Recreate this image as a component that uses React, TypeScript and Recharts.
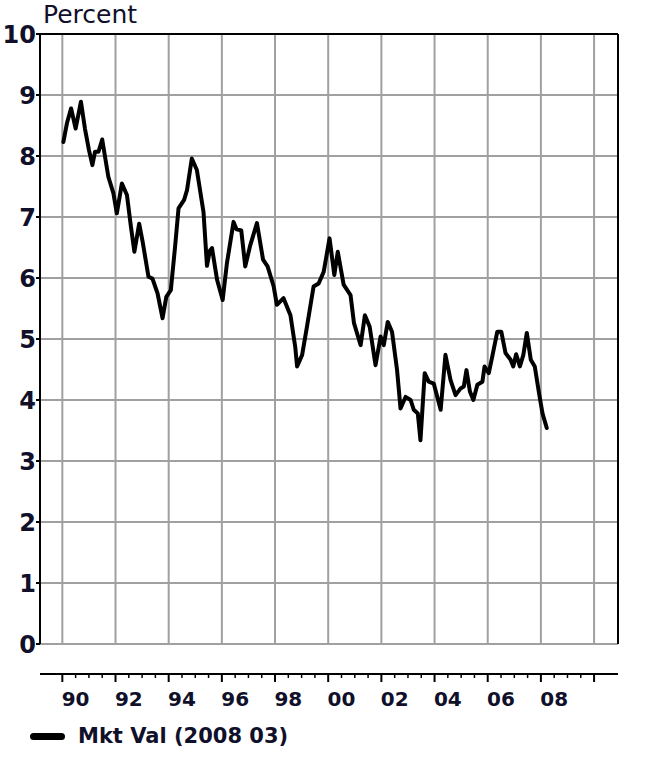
import React from 'react';
import { LineChart, Line, XAxis, YAxis, CartesianGrid, ReferenceLine, Legend } from 'recharts';

const dates = [
  1990.04, 1990.18, 1990.33, 1990.5, 1990.7, 1990.85, 1991.0, 1991.13, 1991.23, 1991.36,
  1991.5, 1991.62, 1991.73, 1991.92, 1992.05, 1992.24, 1992.43, 1992.58, 1992.71, 1992.89,
  1993.03, 1993.24, 1993.39, 1993.58, 1993.77, 1993.91, 1994.08, 1994.24, 1994.37, 1994.58,
  1994.69, 1994.87, 1995.06, 1995.31, 1995.44, 1995.55, 1995.63, 1995.82, 1996.03, 1996.19,
  1996.44, 1996.55, 1996.73, 1996.88, 1997.07, 1997.32, 1997.55, 1997.72, 1997.95, 1998.07,
  1998.32, 1998.58, 1998.76, 1998.83, 1999.02, 1999.2, 1999.45, 1999.64, 1999.83, 2000.05,
  2000.23, 2000.36, 2000.58, 2000.84, 2000.97, 2001.22, 2001.38, 2001.56, 2001.78, 2001.97,
  2002.09, 2002.24, 2002.4, 2002.59, 2002.72, 2002.91, 2003.1, 2003.22, 2003.37, 2003.47,
  2003.63, 2003.78, 2003.97, 2004.23, 2004.41, 2004.6, 2004.79, 2004.98, 2005.1, 2005.2,
  2005.33, 2005.46, 2005.61, 2005.8, 2005.88, 2006.04, 2006.17, 2006.36, 2006.51, 2006.67,
  2006.86, 2006.96, 2007.07, 2007.21, 2007.34, 2007.47, 2007.62, 2007.77, 2007.93, 2008.06,
  2008.22,
];

const mktVal = [
  8.23, 8.55, 8.78, 8.45, 8.89, 8.45, 8.1, 7.85, 8.07, 8.07,
  8.27, 7.95, 7.66, 7.39, 7.06, 7.55, 7.36, 6.84, 6.43, 6.89,
  6.57, 6.02, 5.99, 5.75, 5.34, 5.69, 5.8, 6.51, 7.14, 7.28,
  7.44, 7.96, 7.77, 7.08, 6.2, 6.45, 6.49, 5.97, 5.64, 6.24,
  6.92, 6.8, 6.78, 6.19, 6.54, 6.9, 6.3, 6.19, 5.86, 5.56,
  5.67, 5.39, 4.87, 4.55, 4.74, 5.2, 5.86, 5.91, 6.1, 6.65,
  6.05, 6.43, 5.89, 5.72, 5.26, 4.9, 5.39, 5.2, 4.57, 5.04,
  4.9, 5.28, 5.12, 4.49, 3.86, 4.05, 4.0, 3.84, 3.78, 3.34,
  4.44, 4.3, 4.27, 3.84, 4.74, 4.33, 4.08, 4.19, 4.22, 4.49,
  4.14, 4.0, 4.25, 4.3, 4.55, 4.44, 4.71, 5.12, 5.12, 4.77,
  4.66, 4.55, 4.75, 4.55, 4.74, 5.1, 4.66, 4.55, 4.11, 3.78,
  3.54,
];

const yTicks = [0, 1, 2, 3, 4, 5, 6, 7, 8, 9, 10];
const gridYears = [1990, 1992, 1994, 1996, 1998, 2000, 2002, 2004, 2006, 2008, 2010];
const xLabels = ['90', '92', '94', '96', '98', '00', '02', '04', '06', '08'];
const xLabelYears = [1990.5, 1992.5, 1994.5, 1996.5, 1998.5, 2000.5, 2002.5, 2004.5, 2006.5, 2008.5];
const xDomain = [1989.16, 2010.9];

const halfYearTicks = gridYears
  .flatMap((y) => [y, y + 0.5, y + 1, y + 1.5])
  .filter((t) => t <= 2010);

const data = dates.map((d, i) => ({ date: d, value: mktVal[i] }));

const TEXT = '#10102a';
const FONT = '"DejaVu Sans", sans-serif';

const XTick = (props: any) => {
  const { x, y, payload } = props;
  const v = payload.value;
  const major = gridYears.includes(v);
  const idx = xLabelYears.indexOf(v);
  return (
    <g>
      <line x1={x} y1={y} x2={x} y2={y + (major ? 8 : 4)} stroke="#000" strokeWidth={major ? 2 : 1.5} />
      {idx >= 0 && (
        <text x={x} y={y + 32} textAnchor="middle" fontFamily={FONT} fontWeight="bold" fontSize={20} fill={TEXT}>
          {xLabels[idx]}
        </text>
      )}
    </g>
  );
};

const LegendContent = () => (
  <div style={{ height: 24, display: 'flex', alignItems: 'center', paddingLeft: 30 }}>
    <span style={{ display: 'inline-block', width: 35, height: 7, background: '#000', borderRadius: 4 }} />
    <span
      style={{
        marginLeft: 13,
        fontFamily: FONT,
        fontWeight: 'bold',
        fontSize: 21,
        lineHeight: '24px',
        color: TEXT,
      }}
    >
      Mkt Val (2008 03)
    </span>
  </div>
);

const yTickStyle = { fontFamily: FONT, fontWeight: 'bold', fontSize: 24, fill: TEXT };

export default function App() {
  return (
    <div style={{ position: 'absolute', left: 0, top: 0, width: 660, height: 775, background: '#fff' }}>
      <LineChart width={660} height={775} data={data} margin={{ top: 34, right: 0, left: 0, bottom: 27 }}>
        <CartesianGrid xAxisId="grid" yAxisId="left" stroke="#a0a0a0" strokeWidth={2} />
        <XAxis
          xAxisId="grid"
          dataKey="date"
          type="number"
          domain={xDomain}
          ticks={gridYears}
          hide
          allowDataOverflow
        />
        <XAxis
          xAxisId="main"
          dataKey="date"
          type="number"
          domain={xDomain}
          ticks={halfYearTicks}
          interval={0}
          tickLine={false}
          tickSize={0}
          tickMargin={0}
          tick={<XTick />}
          axisLine={{ stroke: '#000', strokeWidth: 2 }}
          height={80}
          allowDataOverflow
        />
        <YAxis
          yAxisId="left"
          orientation="left"
          domain={[0, 10]}
          ticks={yTicks}
          interval={0}
          width={40}
          tickSize={4}
          tickMargin={0}
          tickLine={{ stroke: '#000', strokeWidth: 2 }}
          axisLine={{ stroke: '#000', strokeWidth: 2 }}
          tick={yTickStyle}
          label={{
            content: (p: any) => {
              const vb = p.viewBox || { x: 0, y: 34, width: 40 };
              return (
                <text x={vb.x + vb.width + 3} y={vb.y - 11} fontFamily={FONT} fontSize={25} fill={TEXT}>
                  Percent
                </text>
              );
            },
          }}
        />
        <YAxis
          yAxisId="right"
          orientation="right"
          domain={[0, 10]}
          ticks={yTicks}
          interval={0}
          width={42}
          tickSize={5}
          tickMargin={0}
          tickLine={{ stroke: '#000', strokeWidth: 2 }}
          axisLine={{ stroke: '#000', strokeWidth: 2 }}
          tick={yTickStyle}
        />
        <ReferenceLine xAxisId="main" yAxisId="left" y={10} stroke="#000" strokeWidth={2} />
        <Line
          xAxisId="main"
          yAxisId="left"
          type="linear"
          dataKey="value"
          name="Mkt Val (2008 03)"
          stroke="#000"
          strokeWidth={4}
          strokeLinejoin="round"
          strokeLinecap="round"
          dot={false}
          isAnimationActive={false}
        />
        <Legend verticalAlign="bottom" align="left" content={<LegendContent />} />
      </LineChart>
    </div>
  );
}
